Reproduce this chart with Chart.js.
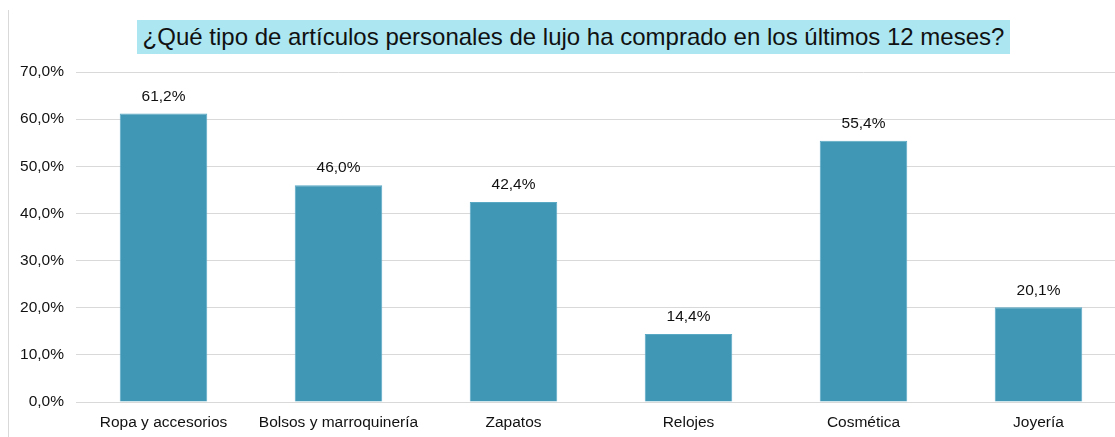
<!DOCTYPE html>
<html>
<head>
<meta charset="utf-8">
<script src="https://cdn.jsdelivr.net/npm/chart.js@4"></script>
<style>
  body { margin: 0; overflow: hidden; background: #fff; }
  #wrap { position: relative; width: 1126px; height: 437px; }
  #frame { position: absolute; left: 8px; top: 10px; width: 1px; height: 427px; background: #d9d9d9; }
  #title {
    position: absolute; left: 137px; top: 20px; width: 873px; height: 34px;
    background: #abe6f1; color: #111; text-align: center;
    font: 24px "Liberation Sans", Arial, sans-serif; line-height: 34px;
  }
</style>
</head>
<body>
<div id="wrap">
  <canvas id="chart" width="1126" height="437"></canvas>
  <div id="frame"></div>
  <div id="title">¿Qué tipo de artículos personales de lujo ha comprado en los últimos 12 meses?</div>
</div>
<script>
// categories and values (percent)
const categories = ['Ropa y accesorios', 'Bolsos y marroquinería', 'Zapatos', 'Relojes', 'Cosmética', 'Joyería'];
const values = [61.2, 46.0, 42.4, 14.4, 55.4, 20.1];

// format like 61,2%
const pct = v => v.toFixed(1).replace('.', ',') + '%';

// draw the value above each bar
const valueLabels = {
    id: 'valueLabels',
    afterDatasetsDraw(chart) {
        const c = chart.ctx;
        const meta = chart.getDatasetMeta(0);
        c.save();
        c.font = '15.5px "Liberation Sans", Arial, sans-serif';
        c.fillStyle = '#111';
        c.textAlign = 'center';
        c.textBaseline = 'middle';
        meta.data.forEach((bar, i) => {
            c.fillText(pct(values[i]), bar.x, bar.y - 17);
        });
        c.restore();
    }
};

const ctx = document.getElementById('chart').getContext('2d');
new Chart(ctx, {
    type: 'bar',
    data: {
        labels: categories,
        datasets: [{
            data: values,
            backgroundColor: '#3f96b5',
            borderColor: '#5aa9c4',
            borderWidth: 1,
            barPercentage: 0.5,
            categoryPercentage: 1
        }]
    },
    options: {
        responsive: false,
        animation: false,
        layout: { padding: { top: 72, left: 0, right: 0, bottom: 0 } },
        plugins: { legend: { display: false }, tooltip: { enabled: false } },
        scales: {
            x: {
                grid: { display: false, drawTicks: false },
                border: { color: '#d9d9d9', width: 1 },
                ticks: { padding: 11, color: '#111', font: { family: '"Liberation Sans", Arial, sans-serif', size: 15.5 } },
                afterFit: s => { s.height = 35; }
            },
            y: {
                min: 0,
                max: 70,
                grid: { color: '#d9d9d9', lineWidth: 1, drawTicks: false },
                border: { display: false },
                ticks: {
                    stepSize: 10,
                    padding: 12,
                    color: '#111',
                    font: { family: '"Liberation Sans", Arial, sans-serif', size: 15.5 },
                    callback: v => pct(v)
                },
                afterFit: s => { s.width = 76; }
            }
        }
    },
    plugins: [valueLabels]
});
</script>
</body>
</html>
